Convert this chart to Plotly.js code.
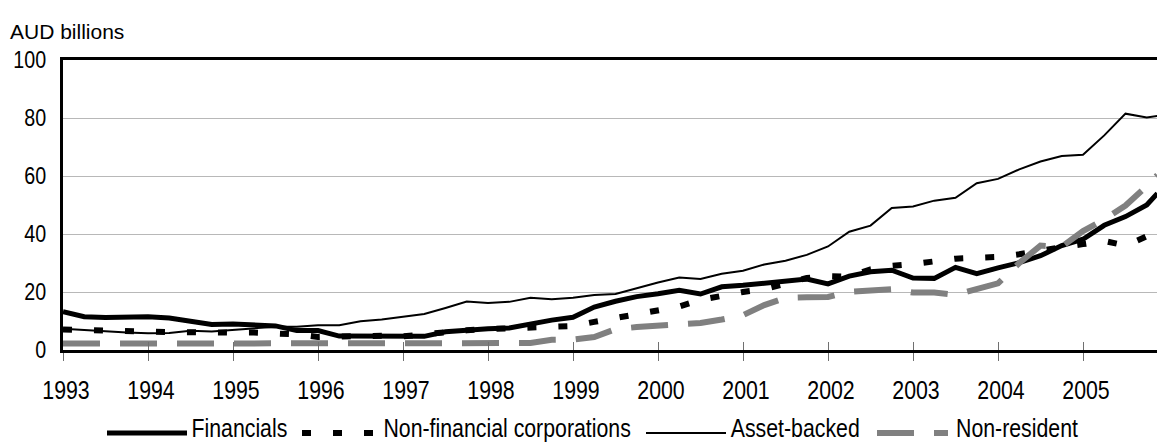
<!DOCTYPE html>
<html>
<head>
<meta charset="utf-8">
<script src="https://cdn.plot.ly/plotly-3.0.1.min.js"></script>
<style>
  html, body { margin: 0; padding: 0; background: #ffffff; }
  #chart { width: 1157px; height: 444px; }
</style>
</head>
<body>
<div id="chart"></div>
<script>
// ---- Data (AUD billions, quarterly readings) ----
const periods = [
  1993.00, 1993.25, 1993.50, 1993.75,
  1994.00, 1994.25, 1994.50, 1994.75,
  1995.00, 1995.25, 1995.50, 1995.75,
  1996.00, 1996.25, 1996.50, 1996.75,
  1997.00, 1997.25, 1997.50, 1997.75,
  1998.00, 1998.25, 1998.50, 1998.75,
  1999.00, 1999.25, 1999.50, 1999.75,
  2000.00, 2000.25, 2000.50, 2000.75,
  2001.00, 2001.25, 2001.50, 2001.75,
  2002.00, 2002.25, 2002.50, 2002.75,
  2003.00, 2003.25, 2003.50, 2003.75,
  2004.00, 2004.25, 2004.50, 2004.75,
  2005.00, 2005.25, 2005.50, 2005.75,
  2005.875
];

const financials = [
  13.2, 11.5, 11.2, 11.4,
  11.5, 11.0, 10.0, 8.8,
  9.0, 8.5, 8.3, 6.7,
  6.7, 4.8, 4.8, 4.8,
  4.6, 4.7, 6.3, 6.9,
  7.3, 7.6, 9.0, 10.3,
  11.3, 14.8, 16.8, 18.4,
  19.4, 20.6, 19.3, 21.8,
  22.3, 23.0, 23.9, 24.5,
  22.8, 25.5, 27.0, 27.5,
  24.8, 24.7, 28.5, 26.3,
  28.3, 30.1, 32.5, 36.0,
  38.2, 43.0, 46.0, 50.0,
  54.0
];

const nonFinancialCorps = [
  7.1, 6.8, 6.4, 6.3,
  6.3, 6.2, 6.0, 6.0,
  6.0, 6.0, 5.8, 5.4,
  4.5, 4.8, 5.1, 4.9,
  4.7, 5.5, 6.3, 6.8,
  7.2, 7.5, 7.8, 8.1,
  8.3, 9.7, 11.0, 12.1,
  13.3, 15.0, 17.3, 18.8,
  20.0, 21.0, 23.0, 24.8,
  25.5, 25.3, 27.8, 29.0,
  29.6, 30.5, 31.5, 31.8,
  32.1, 33.0, 34.5, 35.5,
  36.5, 37.6, 36.0, 39.0,
  40.8
];

const assetBacked = [
  7.3, 7.0, 6.5, 6.0,
  5.8, 5.9, 6.6, 6.4,
  6.9, 7.3, 8.0, 8.0,
  8.5, 8.5, 9.9, 10.5,
  11.4, 12.4, 14.5, 16.7,
  16.2, 16.6, 18.0, 17.5,
  18.0, 19.0, 19.3, 21.3,
  23.3, 25.0, 24.5, 26.3,
  27.3, 29.5, 30.8, 32.8,
  35.7, 40.8, 42.9, 49.0,
  49.5, 51.5, 52.5, 57.5,
  59.0, 62.3, 65.0, 66.9,
  67.3, 74.0, 81.5, 80.2,
  80.7
];

const nonResident = [
  2.2, 2.2, 2.1, 2.1,
  2.1, 2.2, 2.2, 2.1,
  2.1, 2.2, 2.2, 2.2,
  2.1, 2.1, 2.2, 2.2,
  2.2, 2.3, 2.3, 2.5,
  2.5, 2.5, 2.4, 3.5,
  3.6, 4.5, 7.2, 7.9,
  8.5, 9.2, 9.3, 10.5,
  12.0, 15.5, 18.0, 18.2,
  18.3, 20.1, 20.5, 21.0,
  19.8, 19.8, 19.0, 21.0,
  23.0, 30.0, 36.0, 35.6,
  41.0, 45.0, 49.8, 56.5,
  60.3
];

const seriesNames = ['Financials', 'Non-financial corporations', 'Asset-backed', 'Non-resident'];
const yearTicks = [1993, 1994, 1995, 1996, 1997, 1998, 1999, 2000, 2001, 2002, 2003, 2004, 2005];
const yearLabels = yearTicks.map(String);
const valueTicks = [0, 20, 40, 60, 80, 100];
const yUnit = 'AUD billions';

// ---- Styles ----
const SANS = '"Liberation Sans", Arial, sans-serif';
const NARROW_RATIO = 0.82;      // emulate Arial Narrow by condensing Liberation Sans
const LEGEND_RATIO = 0.835;
const GREY = '#808080';
const LEGEND_SIZE = 25.5;

const styles = [
  { color: '#000000', width: 5, dash: 'solid' },
  { color: '#000000', width: 6, dash: '9px,22px' },
  { color: '#000000', width: 2, dash: 'solid' },
  { color: GREY, width: 6, dash: '37px,20px' }
];
const seriesData = [financials, nonFinancialCorps, assetBacked, nonResident];

const traces = seriesData.map((vals, i) => ({
  type: 'scatter',
  mode: 'lines',
  name: seriesNames[i],
  x: periods,
  y: vals,
  line: { color: styles[i].color, width: styles[i].width, dash: styles[i].dash },
  hoverinfo: 'x+y+name',
  showlegend: false
}));
// helper trace so the overlay axis (upper half of the crossing ticks) is drawn
traces.push({ type: 'scatter', mode: 'none', x: [periods[0]], y: [0], xaxis: 'x2', yaxis: 'y',
  showlegend: false, hoverinfo: 'skip' });

// ---- Geometry (pixels) ----
const W = 1157, H = 444;
const M = { l: 63, r: 0, t: 60, b: 94 };
const PW = W - M.l - M.r, PH = H - M.t - M.b;
const xRange = [1993, 1993 + PW / 85];
const px = p => (p - M.l) / PW;
const py = p => (H - M.b - p) / PH;

// text width measuring (to place condensed legend labels)
const cnv = document.createElement('canvas').getContext('2d');
cnv.font = LEGEND_SIZE + 'px "Liberation Sans"';
const condensedWidth = s => cnv.measureText(s).width * LEGEND_RATIO;

// ---- Custom legend (long samples, like the original) ----
const legendY = 433;
const legendItems = [
  { sample: [107, 187], text: 192 },
  { sample: [302, 376], text: 383 },
  { sample: [646, 726], text: 731 },
  { sample: [877, 948], text: 956 }
];
const shapes = legendItems.map((it, i) => ({
  type: 'line', xref: 'paper', yref: 'paper',
  x0: px(it.sample[0]), x1: px(it.sample[1]),
  y0: py(legendY), y1: py(legendY),
  line: { color: styles[i].color, width: styles[i].width, dash: styles[i].dash }
}));
const annotations = legendItems.map((it, i) => ({
  xref: 'paper', yref: 'paper',
  x: px(it.text + condensedWidth(seriesNames[i]) / 2), y: py(legendY - 5),
  xanchor: 'center', yanchor: 'middle', align: 'center',
  text: seriesNames[i], showarrow: false,
  font: { family: SANS, size: LEGEND_SIZE, color: '#000000' }
}));

const layout = {
  width: W, height: H,
  margin: M,
  paper_bgcolor: '#ffffff',
  plot_bgcolor: '#ffffff',
  showlegend: false,
  title: {
    text: yUnit,
    xref: 'container', yref: 'container',
    x: 10 / W, xanchor: 'left',
    y: 1 - 32 / H, yanchor: 'middle',
    font: { family: SANS, size: 21, color: '#000000' }
  },
  xaxis: {
    range: xRange,
    tickmode: 'array', tickvals: yearTicks, ticktext: yearLabels,
    ticks: 'outside', ticklen: 8, tickwidth: 1, tickcolor: '#707070',
    showline: true, linewidth: 3, linecolor: '#000000', mirror: true,
    showgrid: false, zeroline: false,
    tickfont: { family: SANS, size: 26, color: '#000000' },
    ticklabelstandoff: 7,
    ticklabelshift: 3,
    fixedrange: true
  },
  xaxis2: {
    overlaying: 'x', anchor: 'y', side: 'bottom',
    range: xRange,
    tickmode: 'array', tickvals: yearTicks,
    ticks: 'inside', ticklen: 8, tickwidth: 1, tickcolor: '#707070',
    showticklabels: false, showline: false, showgrid: false, zeroline: false,
    fixedrange: true
  },
  yaxis: {
    range: [0, 100],
    tickmode: 'array', tickvals: valueTicks,
    ticks: '', showgrid: true, gridcolor: '#b8b8b8', gridwidth: 1,
    showline: true, linewidth: 3, linecolor: '#000000',
    zeroline: false,
    tickfont: { family: SANS, size: 24, color: '#000000' },
    ticklabelstandoff: 9,
    fixedrange: true
  },
  shapes: shapes,
  annotations: annotations
};

function condense(root, selector, ratio) {
  root.querySelectorAll(selector).forEach(t => {
    const w = t.getComputedTextLength();
    if (w > 0) {
      t.setAttribute('textLength', (w * ratio).toFixed(2));
      t.setAttribute('lengthAdjust', 'spacingAndGlyphs');
    }
  });
}

const gd = document.getElementById('chart');
Plotly.newPlot(gd, traces, layout, { displayModeBar: false, staticPlot: true }).then(() => {
  condense(gd, '.xtick text', NARROW_RATIO);
  condense(gd, '.ytick text', NARROW_RATIO);
  condense(gd, '.annotation-text', LEGEND_RATIO);
});
</script>
</body>
</html>
